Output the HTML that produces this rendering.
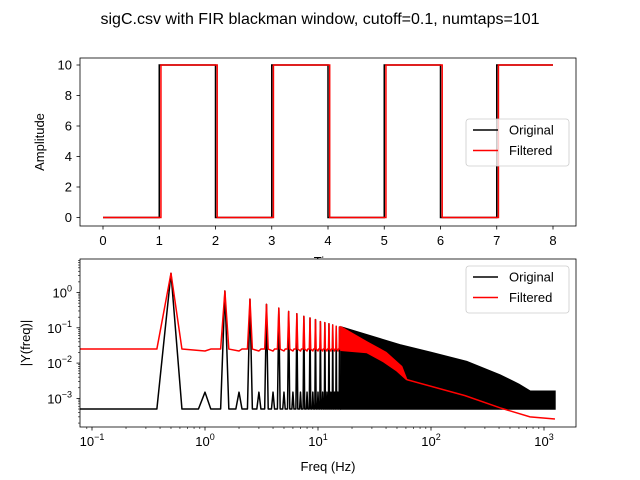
<!DOCTYPE html>
<html><head><meta charset="utf-8"><style>
body{margin:0;background:#fff}
svg{display:block;font-family:"Liberation Sans","DejaVu Sans",sans-serif}
</style></head><body>
<svg id="fig" width="640" height="480" viewBox="0 0 640 480">
<rect width="640" height="480" fill="#fff"/>
<text x="320" y="24" text-anchor="middle" font-size="16">sigC.csv with FIR blackman window, cutoff=0.1, numtaps=101</text>
<g id="top"></g>
<g id="bot"></g>
</svg>
<script>
// ---- top chart data ----
const edgeTimes = [0,1,2,3,4,5,6,7,8];
const levels = [0,10,0,10,0,10,0,10];
const timeTicks = [0,1,2,3,4,5,6,7,8];
const ampTicks = [0,2,4,6,8,10];
const filterDelay = 0.03;
// ---- bottom chart data ----
const harmFreqs = [0.5,1.5,2.5,3.5,4.5,5.5,6.5,7.5,8.5,9.5,10.5,11.5,12.5,13.5,14.5,15.5];
const harmPeaks = [3.5,1.1,0.65,0.46,0.36,0.29,0.25,0.21,0.19,0.17,0.15,0.14,0.13,0.12,0.11,0.105];
const evenFreqs = [1,2,3,4,5,6,7,8,9,10,11,12,13,14,15];
const evenPeak = 0.0015;
const floorVal = 0.0005;
const envFreqs = [16,53,100,207,408,600,752,1250];
const envVals = [0.105,0.033,0.02,0.011,0.0046,0.0025,0.0016,0.0016];
const redBase = 0.025;
const redTopF = [16,27,40,55,61];
const redTopV = [0.105,0.04,0.02,0.008,0.0034];
const redLowF = [16,27,38,50,61];
const redLowV = [0.023,0.02,0.011,0.006,0.0034];
const redTailF = [61,200,408,752,1250];
const redTailV = [0.0034,0.0012,0.00054,0.0003,0.00026];
const freqTicks = [-1,0,1,2,3];
const magTicks = [0,-1,-2,-3];

const NS='http://www.w3.org/2000/svg';
function mk(parent,tag,attrs){const e=document.createElementNS(NS,tag);for(const k in attrs)e.setAttribute(k,attrs[k]);parent.appendChild(e);return e;}

// ---------- TOP ----------
const T=document.getElementById('top');
const tx=t=>103+t*56.25, ty=v=>217.5-v*15.25;
let bg=mk(T,'rect',{x:80,y:58,width:496,height:168,fill:'#fff'});
function stepPath(off){let d='M'+tx(edgeTimes[0])+','+ty(levels[0]);
 for(let i=0;i<levels.length;i++){const t0=i===0?edgeTimes[0]:edgeTimes[i]+off;
  if(i>0)d+=' L'+tx(t0)+','+ty(levels[i-1])+' L'+tx(t0)+','+ty(levels[i]);}
 d+=' L'+tx(edgeTimes[edgeTimes.length-1])+','+ty(levels[levels.length-1]);return d;}
let p=mk(T,'path',{d:stepPath(0),fill:'none',stroke:'#000','stroke-width':1.5});


p=mk(T,'path',{d:stepPath(filterDelay),fill:'none',stroke:'#f00','stroke-width':1.5});


mk(T,'rect',{x:80,y:58,width:496,height:168,fill:'none',stroke:'#000','stroke-width':0.8});
timeTicks.forEach(t=>{mk(T,'line',{x1:tx(t),x2:tx(t),y1:226,y2:229.5,stroke:'#000','stroke-width':0.8});
 const l=mk(T,'text',{x:tx(t),y:245,'text-anchor':'middle','font-size':13});l.textContent=t;
 
 });
ampTicks.forEach(v=>{mk(T,'line',{x1:76.5,x2:80,y1:ty(v),y2:ty(v),stroke:'#000','stroke-width':0.8});
 const l=mk(T,'text',{x:72,y:ty(v)+4.5,'text-anchor':'end','font-size':13});l.textContent=v;
 
 });
let yl=mk(T,'text',{x:44,y:142,'text-anchor':'middle','font-size':13,transform:'rotate(-90 44 142)'});yl.textContent='Amplitude';


let xl=mk(T,'text',{x:328,y:266,'text-anchor':'middle','font-size':13});xl.textContent='Time';



function legend(G,x,y){const g=mk(G,'g',{});
 
 
 mk(g,'rect',{x:x,y:y,width:103,height:47,rx:3,fill:'#fff','fill-opacity':0.8,stroke:'#ccc','stroke-width':0.8});
 [['Original','#000'],['Filtered','#f00']].forEach((e,i)=>{const yy=y+11+i*20.5;
  mk(g,'line',{x1:x+7,x2:x+32,y1:yy,y2:yy,stroke:e[1],'stroke-width':1.5});
  const t=mk(g,'text',{x:x+43,y:yy+4.5,'font-size':13});t.textContent=e[0];
  
  });}
legend(T,466,119);

// ---------- BOTTOM ----------
const B=document.getElementById('bot');
const fx=f=>205+Math.log10(f)*113, fy=v=>292.5-Math.log10(v)*35.3;
mk(B,'rect',{x:80,y:259,width:496,height:168,fill:'#fff'});
const cl=mk(B,'clipPath',{id:'cb'});mk(cl,'rect',{x:80,y:259,width:496,height:168});
const C=mk(B,'g',{'clip-path':'url(#cb)'});
const df=0.125;
// black line
let d='M'+fx(0.0625)+','+fy(floorVal);
const spikes=[];
harmFreqs.forEach((f,i)=>spikes.push([f,harmPeaks[i]]));
evenFreqs.forEach(f=>spikes.push([f,evenPeak]));
spikes.sort((a,b)=>a[0]-b[0]);
spikes.forEach(s=>{d+=' L'+fx(s[0]-df)+','+fy(floorVal)+' L'+fx(s[0])+','+fy(s[1])+' L'+fx(s[0]+df)+','+fy(floorVal);});
d+=' L'+fx(envFreqs[0])+','+fy(floorVal);
p=mk(C,'path',{d:d,fill:'none',stroke:'#000','stroke-width':1.5,'stroke-linejoin':'round'});


// dense black band
let e='M'+fx(envFreqs[0])+','+fy(floorVal);
envFreqs.forEach((f,i)=>e+=' L'+fx(f)+','+fy(envVals[i]));
e+=' L'+fx(envFreqs[envFreqs.length-1])+','+fy(floorVal)+' Z';
p=mk(C,'path',{d:e,fill:'#000',stroke:'#000','stroke-width':1.5});


// red line
let r='M'+fx(0.0625)+','+fy(redBase);
harmFreqs.forEach((f,i)=>{r+=' L'+fx(f-df)+','+fy(redBase)+' L'+fx(f)+','+fy(harmPeaks[i])+' L'+fx(f+df)+','+fy(redBase);
 if(i<evenFreqs.length) r+=' L'+fx(evenFreqs[i])+','+fy(redBase*0.88)+' L'+fx(evenFreqs[i]+df)+','+fy(redBase);});
r+=' L'+fx(redTopF[0])+','+fy(redBase);
p=mk(C,'path',{d:r,fill:'none',stroke:'#f00','stroke-width':1.5,'stroke-linejoin':'round'});


let rb='M'+fx(redTopF[0])+','+fy(redTopV[0]);
redTopF.forEach((f,i)=>rb+=' L'+fx(f)+','+fy(redTopV[i]));
for(let i=redLowF.length-1;i>=0;i--)rb+=' L'+fx(redLowF[i])+','+fy(redLowV[i]);
rb+=' Z';
p=mk(C,'path',{d:rb,fill:'#f00',stroke:'#f00','stroke-width':1.5});


let rt='M'+fx(redTailF[0])+','+fy(redTailV[0]);
redTailF.forEach((f,i)=>rt+=' L'+fx(f)+','+fy(redTailV[i]));
p=mk(C,'path',{d:rt,fill:'none',stroke:'#f00','stroke-width':1.5});


mk(B,'rect',{x:80,y:259,width:496,height:168,fill:'none',stroke:'#000','stroke-width':0.8});
freqTicks.forEach(k=>{const x=fx(Math.pow(10,k));
 mk(B,'line',{x1:x,x2:x,y1:427,y2:430.5,stroke:'#000','stroke-width':0.8});
 const l=mk(B,'text',{x:x,y:446,'text-anchor':'middle','font-size':13});
 l.innerHTML='10<tspan dy="-6" font-size="9">'+(k<0?'\u2212'+(-k):k)+'</tspan>';
 
 
 for(let m=2;m<10;m++){const xm=fx(m*Math.pow(10,k));if(xm>80&&xm<576)mk(B,'line',{x1:xm,x2:xm,y1:427,y2:429,stroke:'#000','stroke-width':0.6});}});
mk(B,'line',{x1:fx(0.09),x2:fx(0.09),y1:427,y2:429,stroke:'#000','stroke-width':0.6});
magTicks.forEach(k=>{const y=fy(Math.pow(10,k));
 mk(B,'line',{x1:76.5,x2:80,y1:y,y2:y,stroke:'#000','stroke-width':0.8});
 const l=mk(B,'text',{x:72,y:y+5,'text-anchor':'end','font-size':13});
 l.innerHTML='10<tspan dy="-6" font-size="9">'+(k<0?'\u2212'+(-k):k)+'</tspan>';
 
 
 for(let m=2;m<10;m++){const ym=fy(m*Math.pow(10,k-1));if(ym>259&&ym<427)mk(B,'line',{x1:78,x2:80,y1:ym,y2:ym,stroke:'#000','stroke-width':0.6});}
});
for(let m=2;m<10;m++){const ym=fy(m);if(ym>259)mk(B,'line',{x1:78,x2:80,y1:ym,y2:ym,stroke:'#000','stroke-width':0.6});}
yl=mk(B,'text',{x:30,y:343,'text-anchor':'middle','font-size':13,transform:'rotate(-90 30 343)'});yl.textContent='|Y(freq)|';


xl=mk(B,'text',{x:328,y:471,'text-anchor':'middle','font-size':13});xl.textContent='Freq (Hz)';


legend(B,466,266);
</script>
</body></html>
